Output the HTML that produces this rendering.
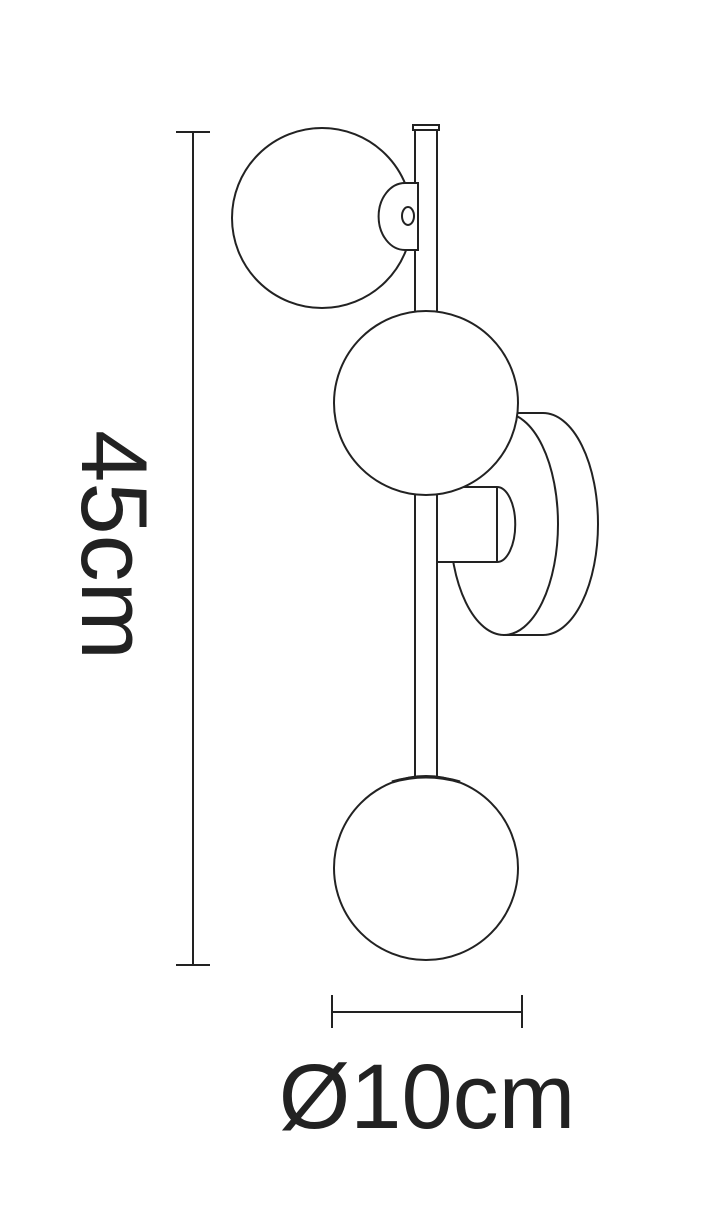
<!DOCTYPE html>
<html><head><style>html,body{margin:0;padding:0;background:#fff}</style></head>
<body>
<svg width="716" height="1200" viewBox="0 0 716 1200" xmlns="http://www.w3.org/2000/svg">
<g stroke="#222" stroke-width="2" fill="#fff">
<line x1="193" y1="132" x2="193" y2="965"/>
<line x1="176" y1="132" x2="210" y2="132"/>
<line x1="176" y1="965" x2="210" y2="965"/>
<line x1="332" y1="1012" x2="522" y2="1012"/>
<line x1="332" y1="995" x2="332" y2="1028"/>
<line x1="522" y1="995" x2="522" y2="1028"/>
<path d="M504 413 L543 413 A55 111 0 0 1 543 635 L504 635 Z"/>
<ellipse cx="504" cy="524" rx="54" ry="111"/>
<rect x="415" y="128" width="22" height="660"/>
<rect x="413" y="125" width="26" height="5"/>
<path d="M437 487 L497 487 A18 37 0 0 1 497 562 L437 562 Z"/>
<line x1="497" y1="487" x2="497" y2="562"/>
<circle cx="322" cy="218" r="90"/>
<path d="M405 183 A26 33 0 0 0 405 250 L418 250 L418 183 Z"/>
<ellipse cx="408" cy="216" rx="6" ry="9"/>
<circle cx="426" cy="403" r="92"/>
<circle cx="426" cy="868" r="92"/>
<path d="M392 782 Q426 772 460 782" fill="none" stroke-width="3"/>
</g>
<text transform="translate(82,545) rotate(90)" text-anchor="middle" font-family="Liberation Sans, sans-serif" font-size="94" fill="#222">45cm</text>
<text x="427" y="1128" text-anchor="middle" font-family="Liberation Sans, sans-serif" font-size="92" fill="#222">Ø10cm</text>
</svg>
</body></html>
